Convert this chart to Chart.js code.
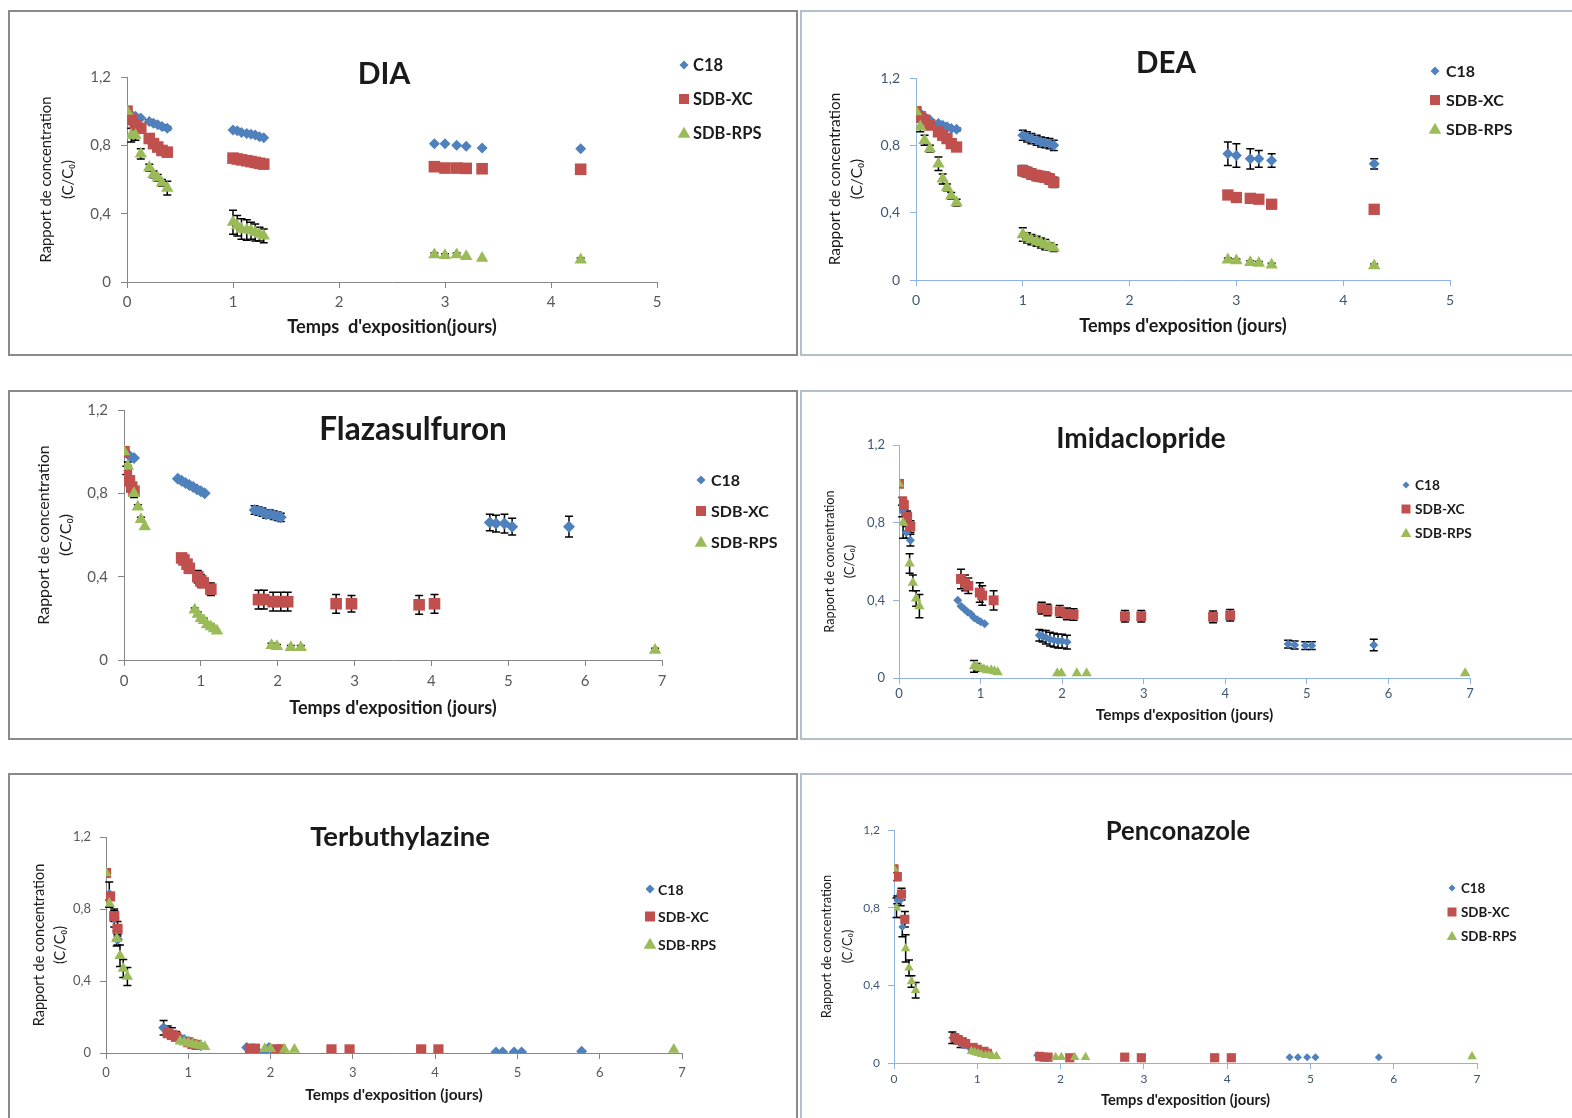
<!DOCTYPE html>
<html><head><meta charset="utf-8">
<script src="https://cdn.jsdelivr.net/npm/chart.js@4.4.1/dist/chart.umd.min.js"></script>
<style>
body{margin:0;background:#fff;width:1572px;height:1118px;overflow:hidden;position:relative;}
.panel{position:absolute;box-sizing:border-box;}
canvas{position:absolute;}
</style></head><body>
<script>
// ---------- DATA ----------
const SERIES = ['C18', 'SDB-XC', 'SDB-RPS'];
const Y_TICKS = [0, 0.4, 0.8, 1.2];

// DIA
const DIA_T = [0,0.04,0.08,0.13,0.21,0.25,0.29,0.33,0.38, 1.0,1.04,1.08,1.13,1.17,1.21,1.25,1.29, 2.9,3.0,3.11,3.2,3.35, 4.28];
const DIA_C18 = [1.0,0.98,0.97,0.96,0.94,0.93,0.92,0.91,0.90, 0.89,0.885,0.875,0.87,0.865,0.86,0.85,0.845, 0.81,0.81,0.80,0.795,0.785, 0.78];
const DIA_C18_ERR = [0,0,0,0,0.01,0.01,0.01,0.01,0.01, 0,0,0,0,0,0,0,0, 0,0,0,0,0, 0];
const DIA_XC = [1.0,0.95,0.92,0.9,0.84,0.81,0.79,0.77,0.76, 0.725,0.72,0.715,0.71,0.705,0.70,0.695,0.69, 0.675,0.667,0.667,0.665,0.663, 0.66];
const DIA_XC_ERR = [0,0.01,0.01,0.01,0,0,0,0,0, 0,0,0,0,0,0,0,0, 0,0,0,0.015,0.02, 0.02];
const DIA_RPS = [1.0,0.86,0.86,0.75,0.67,0.63,0.61,0.58,0.55, 0.35,0.33,0.31,0.305,0.30,0.29,0.28,0.27, 0.16,0.155,0.16,0.15,0.14, 0.13];
const DIA_RPS_ERR = [0,0.04,0.03,0.03,0.02,0.02,0.02,0.02,0.04, 0.07,0.06,0.06,0.06,0.05,0.05,0.04,0.04, 0.01,0.01,0.01,0,0, 0.01];

// DEA
const DEA_T = [0,0.04,0.08,0.13,0.21,0.25,0.29,0.33,0.38, 1.0,1.04,1.08,1.13,1.17,1.21,1.25,1.29, 2.92,3.0,3.13,3.21,3.33, 4.29];
const DEA_C18 = [1.0,0.99,0.97,0.95,0.93,0.92,0.91,0.90,0.895, 0.86,0.85,0.84,0.83,0.82,0.815,0.81,0.80, 0.75,0.74,0.72,0.72,0.71, 0.69];
const DEA_C18_ERR = [0,0,0,0,0.01,0.01,0.01,0.01,0.01, 0.03,0.03,0.03,0.03,0.03,0.03,0.03,0.03, 0.07,0.07,0.06,0.05,0.04, 0.03];
const DEA_XC = [1.0,0.97,0.95,0.92,0.88,0.86,0.84,0.81,0.79, 0.65,0.64,0.63,0.62,0.615,0.61,0.60,0.58, 0.505,0.49,0.485,0.48,0.45, 0.42];
const DEA_XC_ERR = [0,0,0,0,0,0,0,0,0.01, 0.03,0.03,0.03,0.03,0.03,0.03,0.03,0.03, 0.01,0.01,0.01,0.01,0, 0];
const DEA_RPS = [1.0,0.91,0.83,0.78,0.69,0.60,0.55,0.50,0.46, 0.27,0.25,0.24,0.23,0.22,0.21,0.20,0.19, 0.12,0.115,0.105,0.10,0.09, 0.085];
const DEA_RPS_ERR = [0,0.03,0.03,0.02,0.04,0.03,0.02,0.02,0.02, 0.04,0.03,0.03,0.03,0.03,0.03,0.02,0.02, 0.01,0.01,0.01,0.01,0.01, 0.01];

// Flazasulfuron
const FLA_C18_T = [0,0.07,0.13, 0.7,0.75,0.8,0.85,0.9,0.95,1.0,1.05, 1.7,1.75,1.8,1.85,1.9,1.95,2.0,2.04, 4.76,4.84,4.95,5.05,5.79];
const FLA_C18 = [1.0,0.98,0.97, 0.87,0.86,0.85,0.84,0.83,0.82,0.81,0.80, 0.72,0.715,0.71,0.70,0.70,0.695,0.69,0.685, 0.66,0.655,0.655,0.64,0.64];
const FLA_C18_ERR = [0,0,0, 0,0,0,0,0,0,0,0, 0.02,0.02,0.02,0.02,0.02,0.02,0.02,0.02, 0.04,0.04,0.045,0.04,0.05];
const FLA_XC_T = [0,0.03,0.07,0.1,0.13, 0.75,0.78,0.82,0.85,0.96,1.0,1.03,1.13, 1.75,1.82,1.94,2.04,2.13, 2.76,2.96,3.84,4.04];
const FLA_XC = [1.0,0.91,0.86,0.83,0.81, 0.49,0.48,0.46,0.44,0.40,0.38,0.37,0.34, 0.29,0.29,0.28,0.28,0.28, 0.27,0.27,0.265,0.27];
const FLA_XC_ERR = [0,0.02,0.02,0.02,0.02, 0.01,0.01,0.01,0.01,0.03,0.03,0.02,0.03, 0.045,0.045,0.045,0.045,0.045, 0.045,0.04,0.045,0.045];
const FLA_RPS_T = [0,0.05,0.13,0.18,0.22,0.27, 0.92,0.96,1.0,1.04,1.08,1.13,1.17,1.21, 1.92,1.99,2.17,2.30, 6.91];
const FLA_RPS = [1.0,0.93,0.80,0.735,0.675,0.64, 0.24,0.22,0.20,0.19,0.17,0.16,0.15,0.14, 0.07,0.065,0.06,0.06, 0.047];
const FLA_RPS_ERR = [0,0.02,0.02,0.01,0.01,0, 0.01,0.01,0.01,0.01,0.01,0,0,0, 0.01,0.01,0.01,0.01, 0.01];

// Imidaclopride
const IMI_C18_T = [0,0.04,0.09,0.14, 0.72,0.76,0.8,0.84,0.88,0.92,0.96,1.0,1.05, 1.72,1.76,1.8,1.85,1.9,1.95,2.0,2.06, 4.77,4.85,4.98,5.06,5.82];
const IMI_C18 = [1.0,0.86,0.75,0.71, 0.40,0.37,0.355,0.34,0.33,0.31,0.30,0.29,0.28, 0.22,0.215,0.21,0.20,0.195,0.19,0.19,0.185, 0.175,0.17,0.167,0.167,0.17];
const IMI_C18_ERR = [0,0.03,0.03,0.03, 0,0,0,0,0,0,0,0,0, 0.03,0.03,0.035,0.035,0.035,0.035,0.035,0.035, 0.02,0.02,0.02,0.02,0.03];
const IMI_XC_T = [0,0.04,0.06,0.1,0.14, 0.76,0.81,0.85,0.99,1.02,1.16, 1.75,1.82,1.97,2.06,2.14, 2.77,2.97,3.85,4.06];
const IMI_XC = [1.0,0.91,0.89,0.83,0.78, 0.51,0.49,0.475,0.44,0.425,0.40, 0.36,0.35,0.343,0.33,0.327, 0.318,0.318,0.315,0.323];
const IMI_XC_ERR = [0,0.02,0.02,0.03,0.03, 0.05,0.04,0.04,0.05,0.05,0.05, 0.03,0.03,0.03,0.03,0.03, 0.03,0.03,0.03,0.03];
const IMI_RPS_T = [0,0.05,0.13,0.17,0.21,0.25, 0.92,0.96,1.0,1.04,1.08,1.13,1.17,1.21, 1.94,1.99,2.18,2.3, 6.94];
const IMI_RPS = [1.0,0.80,0.59,0.49,0.41,0.37, 0.06,0.055,0.05,0.045,0.04,0.04,0.035,0.03, 0.025,0.025,0.025,0.025, 0.025];
const IMI_RPS_ERR = [0,0.08,0.05,0.04,0.04,0.06, 0.03,0.02,0.01,0.01,0,0,0,0, 0,0,0,0, 0];

// Terbuthylazine
const TER_C18_T = [0,0.04,0.1,0.14, 0.7,0.75,0.8,0.85,0.9,0.95,1.0,1.05,1.1,1.15, 1.71,1.78,1.84,1.93,1.98,2.02, 4.74,4.82,4.96,5.05,5.78];
const TER_C18 = [1.0,0.88,0.75,0.63, 0.14,0.12,0.11,0.10,0.085,0.075,0.065,0.055,0.045,0.04, 0.03,0.01,0.01,0.01,0.03,0.02, 0.005,0.005,0.005,0.005,0.01];
const TER_C18_ERR = [0,0.07,0.05,0.03, 0.04,0.03,0.03,0.02,0.01,0.01,0,0,0,0, 0,0,0,0,0,0, 0,0,0,0,0];
const TER_XC_T = [0,0.05,0.1,0.14, 0.75,0.8,0.85,1.0,1.05,1.1, 1.75,1.81,2.07,2.12, 2.74,2.96,3.83,4.04];
const TER_XC = [1.0,0.87,0.76,0.69, 0.11,0.10,0.09,0.06,0.05,0.045, 0.024,0.024,0.02,0.02, 0.02,0.02,0.02,0.02];
const TER_XC_ERR = [0,0.02,0.03,0.04, 0.02,0.02,0.01,0,0,0, 0,0,0,0, 0,0,0,0];
const TER_RPS_T = [0,0.04,0.13,0.17,0.21,0.26, 0.9,0.95,1.0,1.05,1.1,1.15,1.2, 1.93,2.0,2.17,2.29, 6.9];
const TER_RPS = [1.0,0.83,0.635,0.54,0.47,0.425, 0.065,0.06,0.055,0.05,0.045,0.04,0.035, 0.024,0.024,0.02,0.02, 0.02];
const TER_RPS_ERR = [0,0.02,0.04,0.06,0.05,0.05, 0.01,0.01,0,0,0,0,0, 0,0,0,0, 0];

// Penconazole
const PEN_C18_T = [0,0.04,0.08,0.1, 0.7,0.75,0.8,0.85,0.9,0.95,1.0,1.05, 1.72,1.77, 4.75,4.85,4.96,5.06,5.82];
const PEN_C18 = [1.0,0.84,0.84,0.70, 0.13,0.12,0.10,0.09,0.08,0.07,0.06,0.05, 0.04,0.035, 0.03,0.03,0.03,0.03,0.03];
const PEN_C18_ERR = [0,0.02,0.03,0.05, 0.03,0.02,0.02,0.01,0,0,0,0, 0,0, 0,0,0,0,0];
const PEN_XC_T = [0,0.04,0.09,0.13, 0.73,0.77,0.82,0.86,0.95,1.0,1.08,1.12, 1.75,1.8,1.85,2.11, 2.77,2.97,3.85,4.05];
const PEN_XC = [1.0,0.96,0.87,0.74, 0.13,0.12,0.11,0.10,0.08,0.07,0.06,0.05, 0.034,0.03,0.03,0.027, 0.03,0.027,0.027,0.027];
const PEN_XC_ERR = [0,0.02,0.03,0.04, 0.02,0.02,0.01,0,0,0,0,0, 0,0,0,0, 0,0,0,0];
const PEN_RPS_T = [0,0.03,0.14,0.18,0.21,0.26, 0.93,0.97,1.01,1.05,1.1,1.14,1.18,1.23, 1.94,2.01,2.17,2.3, 6.94];
const PEN_RPS = [1.0,0.80,0.59,0.49,0.42,0.375, 0.06,0.055,0.05,0.045,0.04,0.04,0.035,0.035, 0.03,0.03,0.03,0.03, 0.034];
const PEN_RPS_ERR = [0,0.05,0.07,0.04,0.03,0.04, 0,0,0,0,0,0,0,0, 0,0,0,0, 0];

const TITLES = ['DIA', 'DEA', 'Flazasulfuron', 'Imidaclopride', 'Terbuthylazine', 'Penconazole'];
const X_TITLES = ["Temps  d'exposition(jours)", "Temps d'exposition (jours)", "Temps d'exposition (jours)",
                  "Temps d'exposition (jours)", "Temps d'exposition (jours)", "Temps d'exposition (jours)"];
const Y_TITLE = ['Rapport de concentration', '(C/C\u2080)'];
const X_MAX = [5, 5, 7, 7, 7, 7];

const PANEL_DATA = [
  [[DIA_T, DIA_C18, DIA_C18_ERR], [DIA_T, DIA_XC, DIA_XC_ERR], [DIA_T, DIA_RPS, DIA_RPS_ERR]],
  [[DEA_T, DEA_C18, DEA_C18_ERR], [DEA_T, DEA_XC, DEA_XC_ERR], [DEA_T, DEA_RPS, DEA_RPS_ERR]],
  [[FLA_C18_T, FLA_C18, FLA_C18_ERR], [FLA_XC_T, FLA_XC, FLA_XC_ERR], [FLA_RPS_T, FLA_RPS, FLA_RPS_ERR]],
  [[IMI_C18_T, IMI_C18, IMI_C18_ERR], [IMI_XC_T, IMI_XC, IMI_XC_ERR], [IMI_RPS_T, IMI_RPS, IMI_RPS_ERR]],
  [[TER_C18_T, TER_C18, TER_C18_ERR], [TER_XC_T, TER_XC, TER_XC_ERR], [TER_RPS_T, TER_RPS, TER_RPS_ERR]],
  [[PEN_C18_T, PEN_C18, PEN_C18_ERR], [PEN_XC_T, PEN_XC, PEN_XC_ERR], [PEN_RPS_T, PEN_RPS, PEN_RPS_ERR]]
];

// ---------- LAYOUT / STYLE ----------
const FONT = 'Lato, "Open Sans", sans-serif';
const COLORS = ['#4f81bd', '#c0504d', '#9bbb59'];
const STYLES = ['rectRot', 'rect', 'triangle'];
const THEMES = {
  left:  {tick:'#595959', axis:'#868686', text:'#1a1a1a', border:'#8a8a8a'},
  right: {tick:'#3f5773', axis:'#8eb4e3', text:'#1a1a1a', border:'#b3bfcc'}
};
const LAYOUT = [
  {box:[8,10,790,346],   plot:[127,77,657,282],   theme:'left',  tAt:[384,74],   tSize:30,   leg:[684,693,65,34,16.5],  legR:[4.5,5,6], yT:[46,22,14.8],  xT:[327,18.2], tick:15, yLab:111, xLab:302,  pr:[5.5,8.2,7.2]},
  {box:[800,10,775,346], plot:[916,78,1450,280],  theme:'right', tAt:[1166,63],  tSize:29.5, leg:[1435,1446,71,29,16],   legR:[4.5,5,6], yT:[835,22,15.4], xT:[326,18],   tick:14, yLab:900, xLab:300,  pr:[5.5,8,7.2]},
  {box:[8,390,790,350],  plot:[124,410,662,660],  theme:'left',  tAt:[413,430],  tSize:31.5, leg:[701,711,480,31,16],    legR:[4.5,5,6], yT:[44,22,16],    xT:[708,18],   tick:15, yLab:108, xLab:681,  pr:[6,8.2,7.2]},
  {box:[800,390,775,350],plot:[899,445,1470,678], theme:'right', tAt:[1141,439], tSize:28,   leg:[1406,1415,485,24,13.7], legR:[3.5,4.5,5], yT:[830,20,12.7], xT:[715,15.4], tick:13, yLab:885, xLab:694,  pr:[4.5,7,6]},
  {box:[8,773,790,350],  plot:[106,837,682,1053], theme:'left',  tAt:[400,837],  tSize:27.5, leg:[650,658,889,27.5,14],  legR:[4.5,5,6], yT:[39,21,14.5],  xT:[1095,15.4],tick:13, yLab:91,  xLab:1073, pr:[5.5,7.2,6.5]},
  {box:[800,773,775,350],plot:[894,830,1477,1063],theme:'right', tAt:[1178,832], tSize:25.7, leg:[1452,1461,888,24,13.4], legR:[3.5,4.5,5], yT:[827,21,12.8], xT:[1100,14.7],tick:12, yLab:880, xLab:1079, pr:[4,6.5,5.5]}
];

// ---------- PLUGINS ----------
const errorBarPlugin = {
  id: 'errorBars',
  beforeDatasetsDraw(chart) {
    const ctx = chart.ctx, xs = chart.scales.x, ys = chart.scales.y;
    ctx.save();
    ctx.strokeStyle = '#000';
    ctx.lineWidth = 1.5;
    chart.data.datasets.forEach(ds => {
      (ds.errors || []).forEach((e, i) => {
        if (!e) return;
        const p = ds.data[i];
        const x = xs.getPixelForValue(p.x);
        const y1 = ys.getPixelForValue(p.y + e), y2 = ys.getPixelForValue(p.y - e);
        const c = 4;
        ctx.beginPath();
        ctx.moveTo(x, y1); ctx.lineTo(x, y2);
        ctx.moveTo(x - c, y1); ctx.lineTo(x + c, y1);
        ctx.moveTo(x - c, y2); ctx.lineTo(x + c, y2);
        ctx.stroke();
      });
    });
    ctx.restore();
  }
};

function drawMarker(ctx, style, x, y, r) {
  ctx.beginPath();
  if (style === 'rectRot') {
    ctx.moveTo(x, y - r); ctx.lineTo(x + r, y); ctx.lineTo(x, y + r); ctx.lineTo(x - r, y);
  } else if (style === 'rect') {
    ctx.rect(x - r, y - r, 2 * r, 2 * r);
  } else {
    ctx.moveTo(x, y - r * 1.05); ctx.lineTo(x + r * 1.05, y + r * 0.8); ctx.lineTo(x - r * 1.05, y + r * 0.8);
  }
  ctx.closePath();
  ctx.fill();
}

const overlayPlugin = {
  id: 'overlay',
  afterDraw(chart, args, opts) {
    const ctx = chart.ctx;
    ctx.save();
    ctx.fillStyle = opts.textColor;
    ctx.font = 'bold ' + opts.titleSize + 'px ' + FONT;
    ctx.textAlign = 'center'; ctx.textBaseline = 'middle';
    ctx.fillText(opts.title, opts.titleX, opts.titleY);
    ctx.font = 'bold ' + opts.legSize + 'px ' + FONT;
    ctx.textAlign = 'left';
    chart.data.datasets.forEach((ds, i) => {
      const y = opts.legY + i * opts.legGap;
      ctx.fillStyle = ds.backgroundColor;
      drawMarker(ctx, ds.pointStyle, opts.legMarkX, y, opts.legR[i]);
      ctx.fillStyle = opts.textColor;
      ctx.fillText(ds.label, opts.legTextX, y + 1);
    });
    ctx.restore();
  }
};

// ---------- BUILD ----------
function fmtY(v) { return v === 0 ? '0' : v.toFixed(1).replace('.', ','); }

LAYOUT.forEach((L, k) => {
  const [bx, by, bw, bh] = L.box;
  const [pl, pt, pr, pb] = L.plot;
  const th = THEMES[L.theme];
  const border = document.createElement('div');
  border.className = 'panel';
  Object.assign(border.style, {left: bx + 'px', top: by + 'px', width: bw + 'px', height: bh + 'px', border: '2px solid ' + th.border});
  document.body.appendChild(border);
  const cv = document.createElement('canvas');
  cv.width = bw; cv.height = bh;
  cv.style.left = bx + 'px'; cv.style.top = by + 'px';
  document.body.appendChild(cv);

  const tickLen = 6;
  const yW = pl - bx;
  const xH = by + bh - pb;
  const [yTx, yGap, ySize] = L.yT;
  const [xTy, xSize] = L.xT;
  const xTitleLH = xSize * 1.2;

  const datasets = PANEL_DATA[k].map((s, i) => ({
    label: SERIES[i],
    data: s[0].map((t, j) => ({x: t, y: s[1][j]})),
    errors: s[2],
    pointStyle: STYLES[i],
    pointRadius: L.pr[i],
    backgroundColor: COLORS[i],
    borderColor: COLORS[i],
    borderWidth: 0,
    showLine: false,
    order: 2 - i
  }));

  new Chart(cv, {
    type: 'scatter',
    data: {datasets},
    plugins: [errorBarPlugin, overlayPlugin],
    options: {
      responsive: false, animation: false, devicePixelRatio: 1,
      layout: {padding: {left: 0, top: pt - by, right: bx + bw - pr, bottom: 0}},
      events: [],
      plugins: {
        legend: {display: false}, tooltip: {enabled: false},
        overlay: {
          title: TITLES[k], titleX: L.tAt[0] - bx, titleY: L.tAt[1] - by, titleSize: L.tSize,
          legMarkX: L.leg[0] - bx, legTextX: L.leg[1] - bx, legY: L.leg[2] - by, legGap: L.leg[3], legSize: L.leg[4],
          legR: L.legR, textColor: th.text
        }
      },
      scales: {
        x: {
          type: 'linear', min: 0, max: X_MAX[k],
          ticks: {stepSize: 1, autoSkip: false, maxRotation: 0, color: th.tick,
                  font: {family: FONT, size: L.tick}, padding: L.xLab - pb - tickLen - L.tick * 0.6,
                  callback: v => String(v)},
          grid: {drawOnChartArea: false, drawTicks: true, tickLength: tickLen, color: th.axis},
          border: {color: th.axis, width: 1},
          title: {display: true, text: X_TITLES[k], color: th.text,
                  font: {family: FONT, size: xSize, weight: 'bold', lineHeight: 1.2},
                  padding: {top: 0, bottom: by + bh - xTy - xTitleLH / 2}},
          afterFit: s => { s.height = xH; }
        },
        y: {
          type: 'linear', min: 0, max: 1.2,
          afterBuildTicks: s => { s.ticks = Y_TICKS.map(v => ({value: v})); },
          ticks: {color: th.tick, font: {family: FONT, size: L.tick},
                  padding: pl - tickLen - L.yLab, callback: v => fmtY(v)},
          grid: {drawOnChartArea: false, drawTicks: true, tickLength: tickLen, color: th.axis},
          border: {color: th.axis, width: 1},
          title: {display: true, text: Y_TITLE, color: th.text,
                  font: {family: FONT, size: ySize, lineHeight: yGap + 'px'},
                  padding: {top: yTx - bx - yGap / 2, bottom: 0}},
          afterFit: s => { s.width = yW; }
        }
      }
    }
  });
});
</script>
</body></html>
